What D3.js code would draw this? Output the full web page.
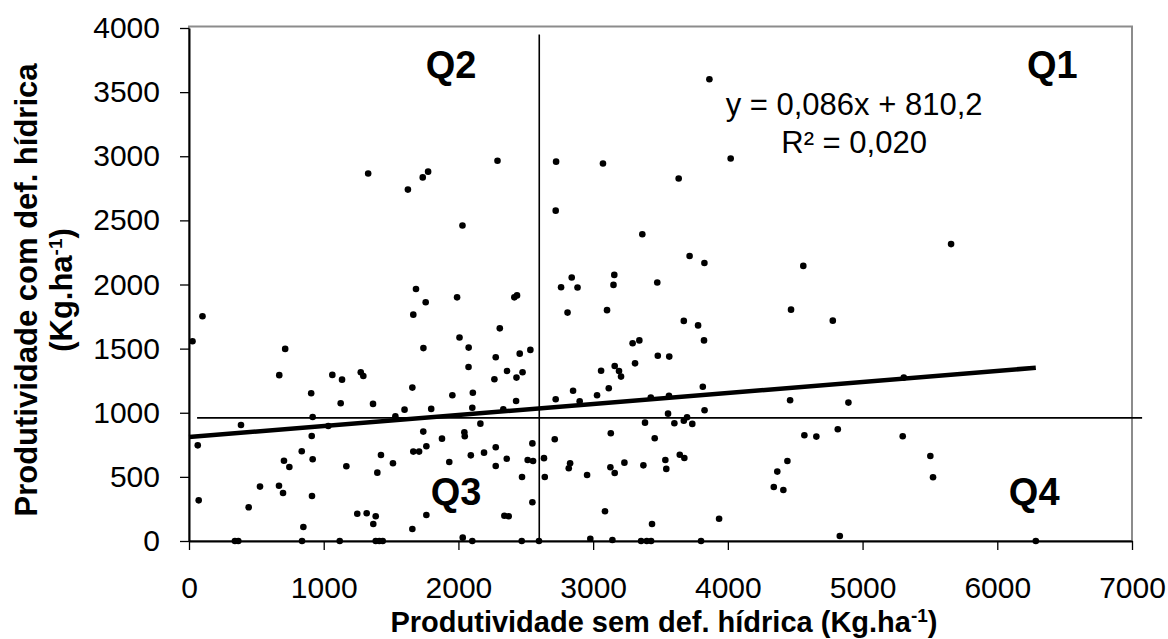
<!DOCTYPE html>
<html>
<head>
<meta charset="utf-8">
<script src="https://cdn.jsdelivr.net/npm/d3@7"></script>
<style>
  html, body { margin: 0; padding: 0; background: #fff; }
  svg text { font-family: "Liberation Sans", Arial, sans-serif; fill: #000; }
</style>
</head>
<body>
<svg id="chart" width="1168" height="639"></svg>
<script>
// ── Data ──────────────────────────────────────────────────────────────────────

// Produtividade sem deficiência hídrica (x) e com deficiência hídrica (y), Kg/ha
const semDef = [
  1330, 1625, 1735, 1775, 2290, 2030, 1685, 1757, 1665, 1990, 100, 2008, 26, 714, 1740, 2076,
  670, 1064, 1136, 1275, 1294, 2075, 907, 1126, 1366, 1658, 1955, 2107, 1600, 1532, 1798, 2103,
  386, 918, 1034, 65, 911, 1739, 2044, 2047, 1878, 837, 705, 745, 918, 1168, 1425, 1665,
  1708, 1762, 2092, 1932, 1514, 1398, 527, 668, 698, 913, 72, 443, 1249, 1319, 1386, 1368,
  1762, 849, 1658, 2032, 341, 366, 839, 1119, 1386, 1413, 1438, 2103,
  2307, 2415, 2435, 2725, 3073, 4021, 3635, 2722, 3365, 3716, 3826, 2841, 2762, 2884, 3157, 3151,
  3476, 2810, 3103, 3673, 3779, 3343, 3823, 2277, 2455, 2534, 3293, 2361, 2267, 2431, 2476, 3480,
  3565, 3160, 3059, 3192, 3311, 3207, 2428, 2722, 2851, 2900, 3029, 3116, 3814, 3428, 3563, 2333,
  3827, 2163, 3385, 3556, 3603, 3673, 3697, 3736, 3131, 3457, 2715, 2549, 2277, 2190, 2359, 2277,
  2514, 2554, 2635, 2829, 2819, 3128, 3160, 3232, 3373, 3536, 3543, 3643, 3677, 2472, 2641, 2955,
  2549, 2341, 2373, 3088, 3437, 3935, 2470, 2598, 2979, 3143, 3356, 3398, 3430, 3801, 3863,
  4560, 4469, 4779, 5306, 4462, 4895, 4568, 4657, 4816, 5298, 4442, 4367, 4341, 4412, 5503, 5523,
  4831, 6286, 5657
];
const comDef = [
  2865, 2740, 2835, 2880, 2965, 2460, 1965, 1862, 1765, 1900, 1752, 1587, 1558, 1498, 1504, 1508,
  1293, 1295, 1258, 1316, 1287, 1357, 1152, 1074, 1069, 1196, 1137, 1156, 1024, 973, 1030, 1039,
  905, 967, 897, 746, 819, 853, 848, 817, 798, 700, 626, 577, 637, 583, 671, 697,
  697, 739, 668, 616, 606, 533, 424, 431, 374, 351, 317, 263, 213, 216, 193, 133,
  203, 109, 94, 26, 0, 0, 0, 0, 0, 0, 0, 0,
  1658, 1900, 1915, 2958, 2943, 2982, 2826, 2576, 2392, 2222, 2168, 2055, 1979, 1977, 2075, 1997,
  2016, 1781, 1800, 1716, 1681, 1564, 1564, 1433, 1461, 1490, 1542, 1326, 1261, 1274, 1316, 1445,
  1438, 1365, 1328, 1326, 1385, 1282, 1092, 1105, 1172, 1090, 1137, 1191, 1203, 1118, 1133, 1026,
  1019, 915, 923, 993, 918, 938, 965, 913, 840, 801, 793, 761, 731, 689, 641, 585,
  632, 624, 646, 606, 567, 575, 530, 611, 590, 632, 562, 673, 647, 499, 499, 515,
  302, 197, 193, 232, 133, 174, 0, 0, 18, 8, 0, 0, 0, 0, 3600,
  2145, 1804, 1718, 1274, 1098, 1079, 824, 814, 871, 817, 624, 541, 421, 398, 663, 497,
  39, 0, 2315
];

const xTicks = [0, 1000, 2000, 3000, 4000, 5000, 6000, 7000];
const yTicks = [0, 500, 1000, 1500, 2000, 2500, 3000, 3500, 4000];

// regressão linear mostrada no gráfico
const slope = 0.086;
const intercept = 810.2;
const r2 = 0.020;

// linhas que dividem os quadrantes
const mediaSem = 2600;
const mediaCom = 960;

const quadrantes = [
  { nome: 'Q1', x: 6408, y: 3611 },
  { nome: 'Q2', x: 1945, y: 3611 },
  { nome: 'Q3', x: 1982, y: 281 },
  { nome: 'Q4', x: 6274, y: 281 }
];

// ── Setup ─────────────────────────────────────────────────────────────────────

const svg = d3.select('#chart');
const pLeft = 189, pRight = 1132, pTop = 28, pBottom = 541;

const x = d3.scaleLinear().domain([0, 7000]).range([pLeft, pRight]);
const y = d3.scaleLinear().domain([0, 4000]).range([pBottom, pTop]);

const fmt = (v, n) => v.toFixed(n).replace('.', ',');

// borda cinza da área do gráfico
svg.append('rect')
  .attr('x', pLeft).attr('y', pTop - 1.5)
  .attr('width', pRight - pLeft).attr('height', pBottom - pTop + 1.5)
  .attr('fill', 'none').attr('stroke', '#8c8c8c').attr('stroke-width', 2);

// ── Axes ──────────────────────────────────────────────────────────────────────

const yAxis = svg.append('g')
  .attr('transform', `translate(${pLeft},0)`)
  .call(d3.axisLeft(y).tickValues(yTicks).tickFormat(d3.format('d'))
    .tickSize(9).tickSizeOuter(0).tickPadding(20));

const xAxis = svg.append('g')
  .attr('transform', `translate(0,${pBottom})`)
  .call(d3.axisBottom(x).tickValues(xTicks).tickFormat(d3.format('d'))
    .tickSize(9).tickSizeOuter(0).tickPadding(27));

[yAxis, xAxis].forEach(a => {
  a.select('.domain').attr('stroke', '#000').attr('stroke-width', 2);
  a.selectAll('.tick line').attr('stroke', '#000').attr('stroke-width', 1.3);
  a.selectAll('.tick text')
    .style('font-family', '"Liberation Sans", Arial, sans-serif')
    .style('font-size', '30px');
});

// ── Quadrant lines ────────────────────────────────────────────────────────────

svg.append('line')
  .attr('x1', x(mediaSem)).attr('x2', x(mediaSem))
  .attr('y1', y(3950)).attr('y2', y(0))
  .attr('stroke', '#000').attr('stroke-width', 1.6);

svg.append('line')
  .attr('x1', x(60)).attr('x2', x(7075))
  .attr('y1', y(mediaCom)).attr('y2', y(mediaCom))
  .attr('stroke', '#000').attr('stroke-width', 1.6);

// ── Points ────────────────────────────────────────────────────────────────────

const pontos = semDef.map((v, i) => ({ sem: v, com: comDef[i] }));

svg.append('g').selectAll('circle')
  .data(pontos)
  .join('circle')
  .attr('cx', d => x(d.sem))
  .attr('cy', d => y(d.com))
  .attr('r', 3.3)
  .attr('fill', '#000');

// ── Trend line ────────────────────────────────────────────────────────────────

const xMax = d3.max(semDef);
svg.append('path')
  .datum([0, xMax])
  .attr('d', d3.line().x(d => x(d)).y(d => y(slope * d + intercept)))
  .attr('stroke', '#000').attr('stroke-width', 4.5).attr('fill', 'none');

// ── Labels ────────────────────────────────────────────────────────────────────

svg.append('g').selectAll('text')
  .data(quadrantes)
  .join('text')
  .attr('x', d => x(d.x)).attr('y', d => y(d.y))
  .attr('text-anchor', 'middle')
  .style('font-size', '38px').style('font-weight', 'bold')
  .text(d => d.nome);

svg.append('text')
  .attr('x', x(4937)).attr('y', y(3323))
  .attr('text-anchor', 'middle').style('font-size', '31px')
  .text(`y = ${fmt(slope, 3)}x + ${fmt(intercept, 1)}`);

svg.append('text')
  .attr('x', x(4937)).attr('y', y(3027))
  .attr('text-anchor', 'middle').style('font-size', '31px')
  .text(`R² = ${fmt(r2, 3)}`);

// título com "-1" sobrescrito
function tituloUnidade(sel, prefixo) {
  sel.append('tspan').text(prefixo + '(Kg.ha');
  sel.append('tspan').attr('baseline-shift', 'super').style('font-size', '19px').text('-1');
  sel.append('tspan').text(')');
}

// título do eixo x
svg.append('text')
  .attr('x', 664).attr('y', 632)
  .attr('text-anchor', 'middle')
  .style('font-size', '29px').style('font-weight', 'bold')
  .call(tituloUnidade, 'Produtividade sem def. hídrica ');

// título do eixo y
svg.append('text')
  .attr('transform', 'translate(37,290) rotate(-90)')
  .attr('text-anchor', 'middle')
  .style('font-size', '31px').style('font-weight', 'bold')
  .text('Produtividade com def. hídrica');

svg.append('text')
  .attr('transform', 'translate(72,290) rotate(-90)')
  .attr('text-anchor', 'middle')
  .style('font-size', '31px').style('font-weight', 'bold')
  .call(tituloUnidade, '');
</script>
</body>
</html>
